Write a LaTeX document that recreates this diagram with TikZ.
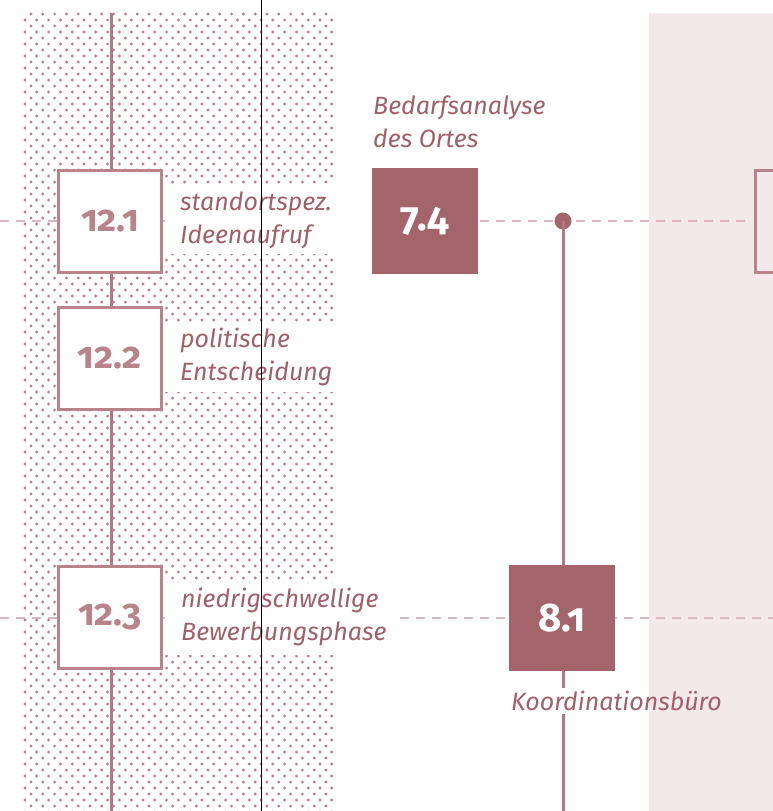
\documentclass[tikz,border=0pt]{standalone}
\usepackage{fontspec}
\setmainfont{Fira Sans}[Numbers=OldStyle]
\definecolor{txt}{HTML}{A0606A}
\definecolor{boxc}{HTML}{A3646C}
\definecolor{linec}{HTML}{B07A82}
\definecolor{outl}{HTML}{B8838A}
\definecolor{dotc}{HTML}{B87E87}
\definecolor{bgp}{HTML}{F3E8EA}
\definecolor{guidec}{HTML}{D9B9BD}
\tikzset{
  openbox/.style={draw=outl, line width=3pt, fill=white, minimum width=103pt, minimum height=102pt, inner sep=0pt, text=outl, font=\fontsize{37}{37}\selectfont\bfseries},
  fullbox/.style={fill=boxc, minimum width=106pt, minimum height=106pt, inner sep=0pt, text=white, font=\fontsize{40}{40}\selectfont\bfseries},
  lbl/.style={text=txt, font=\fontsize{25}{33}\selectfont\itshape, align=left, inner sep=0pt},
  guide/.style={draw=guidec, line width=1.2pt, dash pattern=on 9pt off 7pt},
  vline/.style={draw=linec, line width=3pt}
}
\begin{document}
\begin{tikzpicture}[x=1pt,y=-1pt]
\useasboundingbox (0,0) rectangle (773,811);
\clip (0,0) rectangle (773,811);
% pink background
\fill[bgp] (649,13) rectangle (773,811);
% dashed guides (drawn first, covered by boxes and label backgrounds)
\coordinate (g1l) at (0,221);
\coordinate (g1r) at (752,221);
\coordinate (g2l) at (0,618);
\coordinate (g2r) at (773,618);
\draw[guide] (g1l) -- (g1r);
\draw[guide] (g2l) -- (g2r);
% dotted area
\foreach \r in {0,...,133}{
  \pgfmathsetmacro{\yy}{14+6*\r}
  \pgfmathsetmacro{\xo}{mod(\r,2)==0 ? 31 : 25}
  \foreach \c in {0,...,26}{
    \pgfmathsetmacro{\xx}{\xo+11.8*\c}
    \ifdim\xx pt<334pt
      \fill[dotc] (\xx,\yy) circle (1.6pt);
    \fi
  }
}
% white label backgrounds
\fill[white] (165,185) rectangle (372,254);
\fill[white] (165,322) rectangle (334,392);
\fill[white] (165,583) rectangle (396,655);
% left vertical line
\coordinate (lt) at (111,13);
\coordinate (lb) at (111,811);
\draw[vline] (lt) -- (lb);
% boxes
\node[openbox] (b121) at (110,221) {12.1};
\node[openbox] (b122) at (110,358) {12.2};
\node[openbox] (b123) at (110,617.5) {12.3};
\node[fullbox] (b74) at (425,221) {7.4};
% right box
\node[draw=outl, line width=3pt, fill=bgp, minimum width=80pt, minimum height=102pt, anchor=west, inner sep=0pt] (rb) at (753.5,221) {};
% dot and vertical to 8.1
\node[circle, fill=boxc, minimum size=17pt, inner sep=0pt] (dot) at (563,221) {};
\node[fullbox] (b81) at (562,618) {8.1};
\node[lbl, anchor=west] (k) at (511,701) {Koordinationsbüro};
\coordinate (vb) at (563,811);
\draw[vline] (dot.center) -- (b81.north -| dot);
\draw[vline] (b81.south -| dot) -- (563,688);
\draw[vline] (563,714) -- (vb);
% labels
\node[lbl, anchor=west] (l121) at (180,220) {standortspez.\\Ideenaufruf};
\node[lbl, anchor=west] (l122) at (180,357) {politische\\Entscheidung};
\node[lbl, anchor=west] (l123) at (181,617) {niedrigschwellige\\Bewerbungsphase};
\node[lbl, anchor=west] (l74) at (373,122) {Bedarfsanalyse\\des Ortes};
% thin black line
\coordinate (bt) at (261,0);
\coordinate (bb) at (261,811);
\draw[black, line width=0.8pt] (bt) -- (bb);
\end{tikzpicture}
\end{document}
